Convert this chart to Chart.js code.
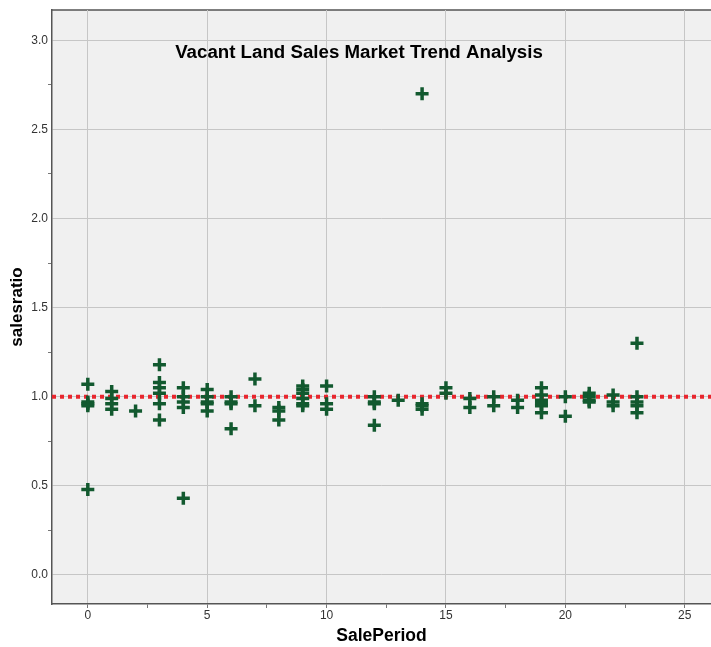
<!DOCTYPE html>
<html>
<head>
<meta charset="utf-8">
<script src="https://cdn.jsdelivr.net/npm/chart.js@4/dist/chart.umd.min.js"></script>
<style>
  html, body { margin: 0; padding: 0; background: #fff; }
  #wrap { width: 711px; height: 647px; }
</style>
</head>
<body>
<div id="wrap"><canvas id="myChart" width="711" height="647"></canvas></div>
<script>
  const chartTitle = 'Vacant Land Sales Market Trend Analysis';
  const xTitle = 'SalePeriod';
  const yTitle = 'salesratio';

  // sale periods and the sales ratios observed in each one
  const periods = [0, 1, 2, 3, 4, 5, 6, 7, 8, 9, 10, 12, 13, 14, 15, 16, 17, 18, 19, 20, 21, 22, 23];
  const ratios = [
    [1.07, 0.97, 0.96, 0.95, 0.48],
    [1.03, 0.99, 0.96, 0.93],
    [0.92],
    [1.18, 1.08, 1.05, 1.02, 0.96, 0.87],
    [1.05, 1.00, 0.97, 0.94, 0.43],
    [1.04, 1.00, 0.97, 0.96, 0.92],
    [1.00, 0.97, 0.96, 0.82],
    [1.10, 0.95],
    [0.94, 0.92, 0.87],
    [1.06, 1.04, 1.02, 0.99, 0.96, 0.95],
    [1.06, 0.96, 0.93],
    [1.00, 0.97, 0.96, 0.84],
    [0.98],
    [2.70, 0.96, 0.95, 0.93],
    [1.05, 1.02],
    [0.99, 0.94],
    [1.00, 0.95],
    [0.98, 0.94],
    [1.05, 1.01, 0.98, 0.96, 0.95, 0.91],
    [1.00, 0.89],
    [1.02, 1.00, 0.98, 0.97],
    [1.01, 0.97, 0.95],
    [1.30, 1.00, 0.97, 0.95, 0.91]
  ];
  const refRatio = 1.0;

  const xTicks = [0, 2.5, 5, 7.5, 10, 12.5, 15, 17.5, 20, 22.5, 25];
  const yTicks = [0, 0.25, 0.5, 0.75, 1.0, 1.25, 1.5, 1.75, 2.0, 2.25, 2.5, 2.75, 3.0];
  const xRange = [-1.5, 26.1];
  const yRange = [-0.163, 3.17];

  const points = [];
  periods.forEach((p, i) => ratios[i].forEach(r => points.push({ x: p, y: r })));

  const isMajor = (v, step) => Math.abs(v / step - Math.round(v / step)) < 1e-6;

  const fontFam = "'Liberation Sans', Arial, sans-serif";

  const plotBg = {
    id: 'plotBg',
    beforeDraw(chart) {
      const { ctx, chartArea: a } = chart;
      ctx.save();
      ctx.fillStyle = '#f0f0f0';
      ctx.fillRect(a.left, a.top, a.right - a.left, a.bottom - a.top);
      ctx.strokeStyle = '#555';
      ctx.lineWidth = 1.5;
      ctx.beginPath();
      ctx.moveTo(a.left, a.top);
      ctx.lineTo(a.right, a.top);
      ctx.stroke();
      ctx.restore();
    },
    afterDatasetsDraw(chart) {
      const { ctx } = chart;
      ctx.save();
      ctx.fillStyle = '#000';
      ctx.font = 'bold 18.7px ' + fontFam;
      ctx.textAlign = 'center';
      ctx.textBaseline = 'middle';
      ctx.fillText(chartTitle, 359, 53);
      ctx.restore();
    }
  };

  const ctx = document.getElementById('myChart').getContext('2d');
  const myChart = new Chart(ctx, {
    type: 'scatter',
    data: {
      datasets: [{
        label: 'Reference',
        type: 'line',
        data: [{ x: xRange[0], y: refRatio }, { x: xRange[1], y: refRatio }],
        borderColor: '#e8262e',
        borderWidth: 4,
        borderDash: [4, 4],
        pointRadius: 0,
        fill: false,
        order: 2
      }, {
        label: 'salesratio',
        data: points,
        pointStyle: 'cross',
        pointRadius: 6.5,
        pointBorderWidth: 3.5,
        borderColor: '#12592f',
        backgroundColor: '#12592f',
        order: 1
      }]
    },
    options: {
      responsive: false,
      animation: false,
      layout: { autoPadding: false, padding: { top: 10, right: 0, left: 0, bottom: 0 } },
      plugins: {
        legend: { display: false },
        tooltip: { enabled: false }
      },
      scales: {
        x: {
          type: 'linear',
          min: xRange[0],
          max: xRange[1],
          afterBuildTicks: s => { s.ticks = xTicks.map(v => ({ value: v })); },
          afterFit: s => { s.height = 43; },
          border: { color: '#555', width: 1.5 },
          grid: {
            color: c => (c.tick && isMajor(c.tick.value, 5)) ? '#c6c6c6' : 'rgba(0,0,0,0)',
            tickColor: '#777',
            tickLength: 4,
            lineWidth: 1
          },
          ticks: {
            autoSkip: false,
            maxRotation: 0,
            padding: 0,
            color: '#333',
            font: { family: fontFam, size: 12 },
            callback: v => isMajor(v, 5) ? String(v) : ''
          },
          title: {
            display: true,
            text: xTitle,
            color: '#000',
            font: { family: fontFam, size: 17.5, weight: 'bold' },
            padding: { top: 0, bottom: 0 }
          }
        },
        y: {
          type: 'linear',
          min: yRange[0],
          max: yRange[1],
          afterBuildTicks: s => { s.ticks = yTicks.map(v => ({ value: v })); },
          afterFit: s => { s.width = 52; },
          border: { color: '#555', width: 1.5 },
          grid: {
            color: c => (c.tick && isMajor(c.tick.value, 0.5)) ? '#c6c6c6' : 'rgba(0,0,0,0)',
            tickColor: c => (c.tick && isMajor(c.tick.value, 0.5)) ? 'rgba(0,0,0,0)' : '#777',
            tickLength: 4,
            lineWidth: 1
          },
          ticks: {
            autoSkip: false,
            padding: 0,
            color: '#333',
            font: { family: fontFam, size: 12 },
            callback: v => isMajor(v, 0.5) ? v.toFixed(1) : ''
          },
          title: {
            display: true,
            text: yTitle,
            color: '#000',
            font: { family: fontFam, size: 17, weight: 'bold' },
            padding: { top: 7, bottom: 0 }
          }
        }
      }
    },
    plugins: [plotBg]
  });
</script>
</body>
</html>
